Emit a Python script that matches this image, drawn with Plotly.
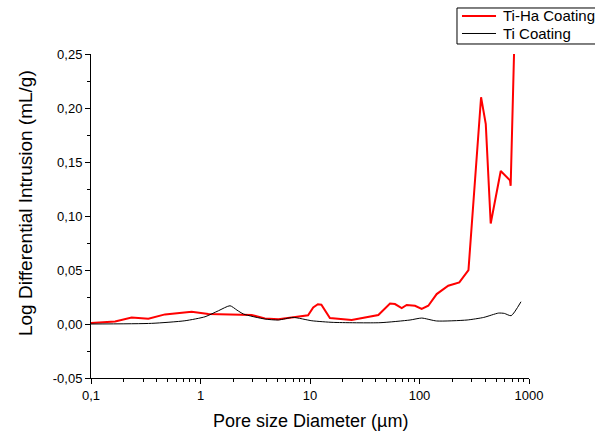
import plotly.graph_objects as go

# Pore size distribution, Ti-Ha coating (red) and Ti coating (black)
tiha_d = [0.1, 0.166, 0.235, 0.334, 0.474, 0.83, 1.18, 2.06, 2.93, 3.87, 5.14, 6.8,
          9.6, 10.7, 11.8, 12.7, 13.7, 15.2, 17.0, 24.0, 42.1, 53.8, 59.7, 68.8, 76.4,
          91.0, 104.7, 120.3, 143.5, 183, 231, 280, 365, 403, 447, 552, 670, 680, 730]
tiha_v = [0.0009, 0.0024, 0.0061, 0.0049, 0.0089, 0.0114, 0.0092, 0.0089, 0.0083, 0.0052,
          0.0043, 0.0061, 0.0080, 0.0153, 0.0183, 0.0179, 0.0123, 0.0055, 0.0050, 0.0037,
          0.0083, 0.0190, 0.0185, 0.0148, 0.0176, 0.0169, 0.0139, 0.0169, 0.0277, 0.0354,
          0.0385, 0.0499, 0.210, 0.185, 0.093, 0.1417, 0.133, 0.128, 0.25]

ti_d = [0.1, 0.358, 0.72, 1.1, 1.46, 1.86, 2.15, 2.47, 3.87, 5.14, 7.0, 10.4, 16.3, 43.6,
        82, 104.7, 143.5, 272, 386, 526, 596, 687, 845]
ti_v = [0.0, 0.0006, 0.003, 0.0067, 0.0123, 0.0169, 0.0129, 0.0092, 0.0046, 0.0037,
        0.0061, 0.003, 0.0015, 0.0012, 0.0037, 0.0055, 0.0028, 0.0037, 0.0061, 0.0101,
        0.0098, 0.0077, 0.0206]

series_names = ["Ti-Ha Coating", "Ti Coating"]
series_colors = ["#ff0000", "#000000"]

x_ticks = [0.1, 1, 10, 100, 1000]
x_labels = ["0,1", "1", "10", "100", "1000"]
y_ticks = [-0.05, 0.0, 0.05, 0.10, 0.15, 0.20, 0.25]
y_labels = ["-0,05", "0,00", "0,05", "0,10", "0,15", "0,20", "0,25"]

x_minor = [m * 10 ** e for e in range(-1, 3) for m in range(2, 10)]
y_minor = [round(v + 0.025, 3) for v in y_ticks[:-1]]

FONT = "Liberation Sans, Arial, sans-serif"

fig = go.Figure()
fig.add_trace(go.Scatter(x=tiha_d, y=tiha_v, mode="lines", name=series_names[0],
                         line=dict(color=series_colors[0], width=2)))
fig.add_trace(go.Scatter(x=ti_d, y=ti_v, mode="lines", name=series_names[1],
                         line=dict(color=series_colors[1], width=1, shape="spline",
                                   smoothing=0.6)))

axis_common = dict(showgrid=False, zeroline=False, showline=True, linecolor="black",
                   linewidth=1, ticks="outside", ticklen=5, tickwidth=1, tickcolor="black",
                   tickfont=dict(family=FONT, size=13, color="black"))

fig.update_xaxes(type="log", range=[-1, 3], tickvals=x_ticks, ticktext=x_labels,
                 minor=dict(tickvals=x_minor, ticks="outside", ticklen=3, tickcolor="black"),
                 **axis_common)
fig.update_yaxes(range=[-0.05, 0.25], tickvals=y_ticks, ticktext=y_labels,
                 minor=dict(tickvals=y_minor, ticks="outside", ticklen=3, tickcolor="black"),
                 **axis_common)

fig.add_annotation(text="Pore size Diameter (µm)", xref="paper", yref="paper",
                   x=0.502, y=-0.1327, showarrow=False, xanchor="center", yanchor="middle",
                   font=dict(family=FONT, size=18, color="black"))
fig.add_annotation(text="Log Differential Intrusion (mL/g)", xref="paper", yref="paper",
                   x=-0.1507, y=0.540, showarrow=False, textangle=-90,
                   xanchor="center", yanchor="middle",
                   font=dict(family=FONT, size=19, color="black"))

# Legend box in the top-right corner, running off the right edge
fig.add_shape(type="rect", xref="paper", yref="paper",
              x0=0.8356, x1=1.17, y0=1.0309, y1=1.142,
              line=dict(color="black", width=1), fillcolor="white")
legend_rows = [1.1173, 1.0633]
for name, color, yy in zip(series_names, series_colors, legend_rows):
    fig.add_shape(type="line", xref="paper", yref="paper",
                  x0=0.847, x1=0.9247, y0=yy, y1=yy,
                  line=dict(color=color, width=2 if color == "#ff0000" else 1))
    fig.add_annotation(text=name, xref="paper", yref="paper", x=0.9361, y=yy,
                       xanchor="left", yanchor="middle", showarrow=False,
                       font=dict(family=FONT, size=15, color="black"))

fig.update_layout(
    width=595, height=434,
    margin=dict(l=91, r=66, t=54, b=56, autoexpand=False),
    paper_bgcolor="white", plot_bgcolor="white",
    showlegend=False,
)

fig.write_html("out.html")
